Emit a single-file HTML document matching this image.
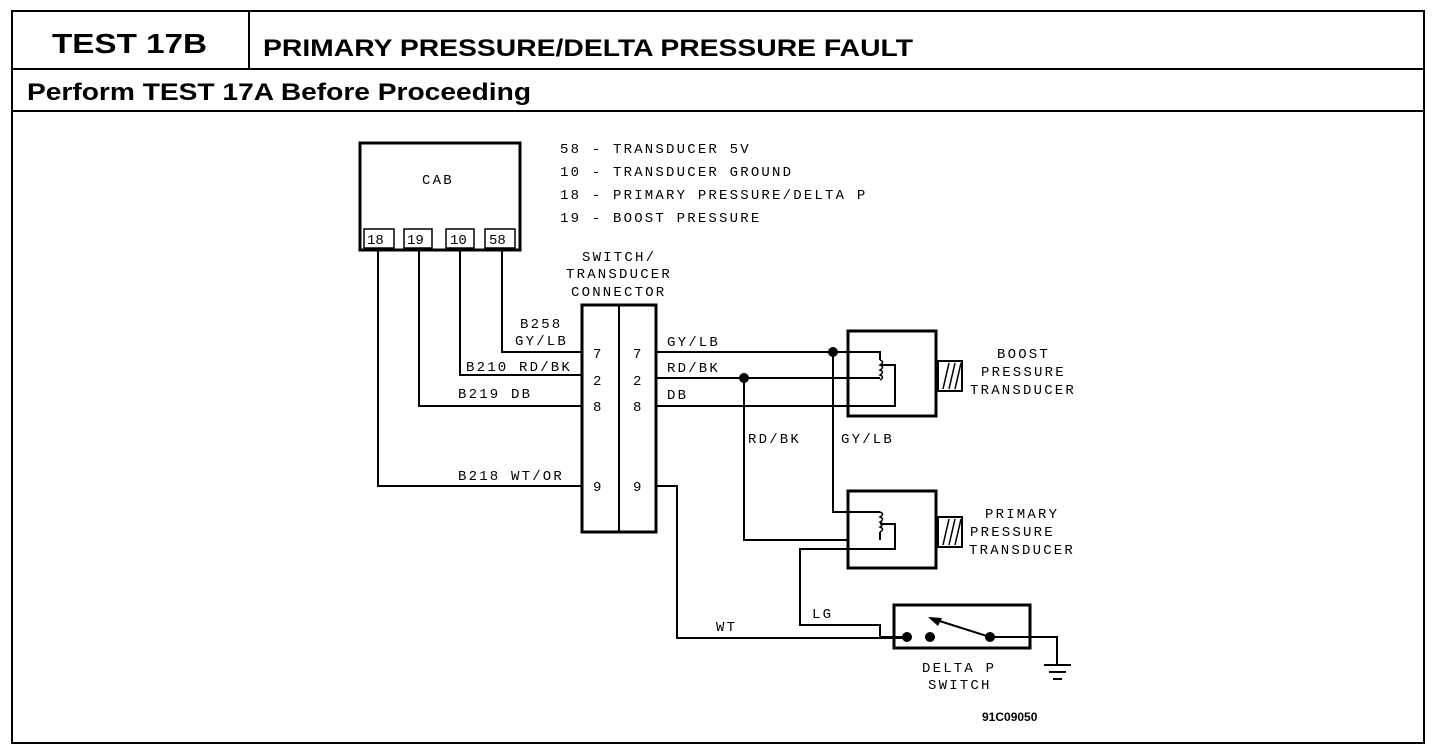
<!DOCTYPE html>
<html><head><meta charset="utf-8"><style>
html,body{margin:0;padding:0;background:#fff;}
svg{display:block;}
.h{font-family:"Liberation Sans",sans-serif;font-weight:bold;fill:#000;}
.t{font-family:"Liberation Mono",monospace;font-size:14px;fill:#000;letter-spacing:2.2px;}
.n{font-family:"Liberation Mono",monospace;font-size:14px;fill:#000;}
</style></head><body>
<svg width="1440" height="754" viewBox="0 0 1440 754" xmlns="http://www.w3.org/2000/svg">
<g fill="none" stroke="#000">
<rect x="12" y="11" width="1412" height="732" stroke-width="2"/>
<line x1="12" y1="69" x2="1424" y2="69" stroke-width="2"/>
<line x1="249" y1="11" x2="249" y2="69" stroke-width="2"/>
<line x1="12" y1="111" x2="1424" y2="111" stroke-width="2"/>
</g>
<text x="52" y="53" class="h" font-size="28" textLength="155" lengthAdjust="spacingAndGlyphs">TEST 17B</text>
<text x="263" y="56" class="h" font-size="24" textLength="650" lengthAdjust="spacingAndGlyphs">PRIMARY PRESSURE/DELTA PRESSURE FAULT</text>
<text x="27" y="100" class="h" font-size="24" textLength="504" lengthAdjust="spacingAndGlyphs">Perform TEST 17A Before Proceeding</text>

<g fill="none" stroke="#000" stroke-width="2">
<rect x="360" y="143" width="160" height="107" stroke-width="3"/>
<rect x="364" y="229" width="30" height="19" stroke-width="1.5"/>
<rect x="404" y="229" width="28" height="19" stroke-width="1.5"/>
<rect x="446" y="229" width="28" height="19" stroke-width="1.5"/>
<rect x="485" y="229" width="30" height="19" stroke-width="1.5"/>
<polyline points="502,248 502,352 582,352"/>
<polyline points="460,248 460,375 582,375"/>
<polyline points="419,248 419,406 582,406"/>
<polyline points="378,248 378,486 582,486"/>
<rect x="582" y="305" width="74" height="227" stroke-width="3"/>
<line x1="619" y1="305" x2="619" y2="532"/>
<line x1="656" y1="352" x2="848" y2="352"/>
<line x1="656" y1="378" x2="880" y2="378"/>
<line x1="656" y1="406" x2="848" y2="406"/>
<polyline points="833,352 833,512 880,512"/>
<polyline points="744,378 744,540 848,540"/>
<rect x="848" y="331" width="88" height="85" stroke-width="3"/>
<polyline points="833,352 880,352 880,360"/>
<path d="M880,360 q5,2 0,5 q5,2 0,5 q5,2 0,5 q5,2 0,5" stroke-width="1.5"/>
<polyline points="880,365 895,365 895,406 848,406"/>
<rect x="938" y="361" width="24" height="30" stroke-width="2"/>
<line x1="943" y1="389" x2="949" y2="363" stroke-width="1.5"/>
<line x1="949" y1="389" x2="955" y2="363" stroke-width="1.5"/>
<line x1="955" y1="389" x2="961" y2="363" stroke-width="1.5"/>
<rect x="848" y="491" width="88" height="77" stroke-width="3"/>
<path d="M880,512 q5,2 0,5 q5,2 0,5 q5,2 0,5 q5,2 0,5" stroke-width="1.5"/>
<polyline points="880,524 895,524 895,549 800,549 800,625 880,625 880,637 907,637"/>
<polyline points="880,532 880,540"/>
<rect x="938" y="517" width="24" height="30" stroke-width="2"/>
<line x1="943" y1="545" x2="949" y2="519" stroke-width="1.5"/>
<line x1="949" y1="545" x2="955" y2="519" stroke-width="1.5"/>
<line x1="955" y1="545" x2="961" y2="519" stroke-width="1.5"/>
<polyline points="656,486 677,486 677,638 907,638"/>
<rect x="894" y="605" width="136" height="43" stroke-width="3"/>
<line x1="990" y1="637" x2="930" y2="618"/>
<polyline points="990,637 1057,637 1057,664"/>
<line x1="1044" y1="665" x2="1071" y2="665"/>
<line x1="1049" y1="672" x2="1066" y2="672"/>
<line x1="1053" y1="679" x2="1062" y2="679"/>
</g>
<g fill="#000">
<circle cx="833" cy="352" r="5"/>
<circle cx="744" cy="378" r="5"/>
<circle cx="907" cy="637" r="5"/>
<circle cx="930" cy="637" r="5"/>
<circle cx="990" cy="637" r="5"/>
<polygon points="928,617 942,618 938,626"/>
</g>
<text x="422" y="184" class="t">CAB</text>
<text x="367" y="244" class="n" font-size="13">18</text>
<text x="407" y="244" class="n" font-size="13">19</text>
<text x="450" y="244" class="n" font-size="13">10</text>
<text x="489" y="244" class="n" font-size="13">58</text>
<text x="560" y="153" class="t">58 - TRANSDUCER 5V</text>
<text x="560" y="176" class="t">10 - TRANSDUCER GROUND</text>
<text x="560" y="199" class="t">18 - PRIMARY PRESSURE/DELTA P</text>
<text x="560" y="222" class="t">19 - BOOST PRESSURE</text>
<text x="582" y="261" class="t">SWITCH/</text>
<text x="566" y="278" class="t">TRANSDUCER</text>
<text x="571" y="296" class="t">CONNECTOR</text>
<text x="520" y="328" class="t">B258</text>
<text x="515" y="345" class="t">GY/LB</text>
<text x="466" y="371" class="t">B210 RD/BK</text>
<text x="458" y="398" class="t">B219 DB</text>
<text x="458" y="480" class="t">B218 WT/OR</text>
<text x="593" y="358" class="n">7</text><text x="633" y="358" class="n">7</text>
<text x="593" y="385" class="n">2</text><text x="633" y="385" class="n">2</text>
<text x="593" y="411" class="n">8</text><text x="633" y="411" class="n">8</text>
<text x="593" y="491" class="n">9</text><text x="633" y="491" class="n">9</text>
<text x="667" y="346" class="t">GY/LB</text>
<text x="667" y="372" class="t">RD/BK</text>
<text x="667" y="399" class="t">DB</text>
<text x="748" y="443" class="t">RD/BK</text>
<text x="841" y="443" class="t">GY/LB</text>
<text x="716" y="631" class="t">WT</text>
<text x="812" y="618" class="t">LG</text>
<text x="997" y="358" class="t">BOOST</text>
<text x="981" y="376" class="t">PRESSURE</text>
<text x="970" y="394" class="t">TRANSDUCER</text>
<text x="985" y="518" class="t">PRIMARY</text>
<text x="970" y="536" class="t">PRESSURE</text>
<text x="969" y="554" class="t">TRANSDUCER</text>
<text x="922" y="672" class="t">DELTA P</text>
<text x="928" y="689" class="t">SWITCH</text>
<text x="982" y="721" class="h" font-size="12">91C09050</text>
</svg>
</body></html>
